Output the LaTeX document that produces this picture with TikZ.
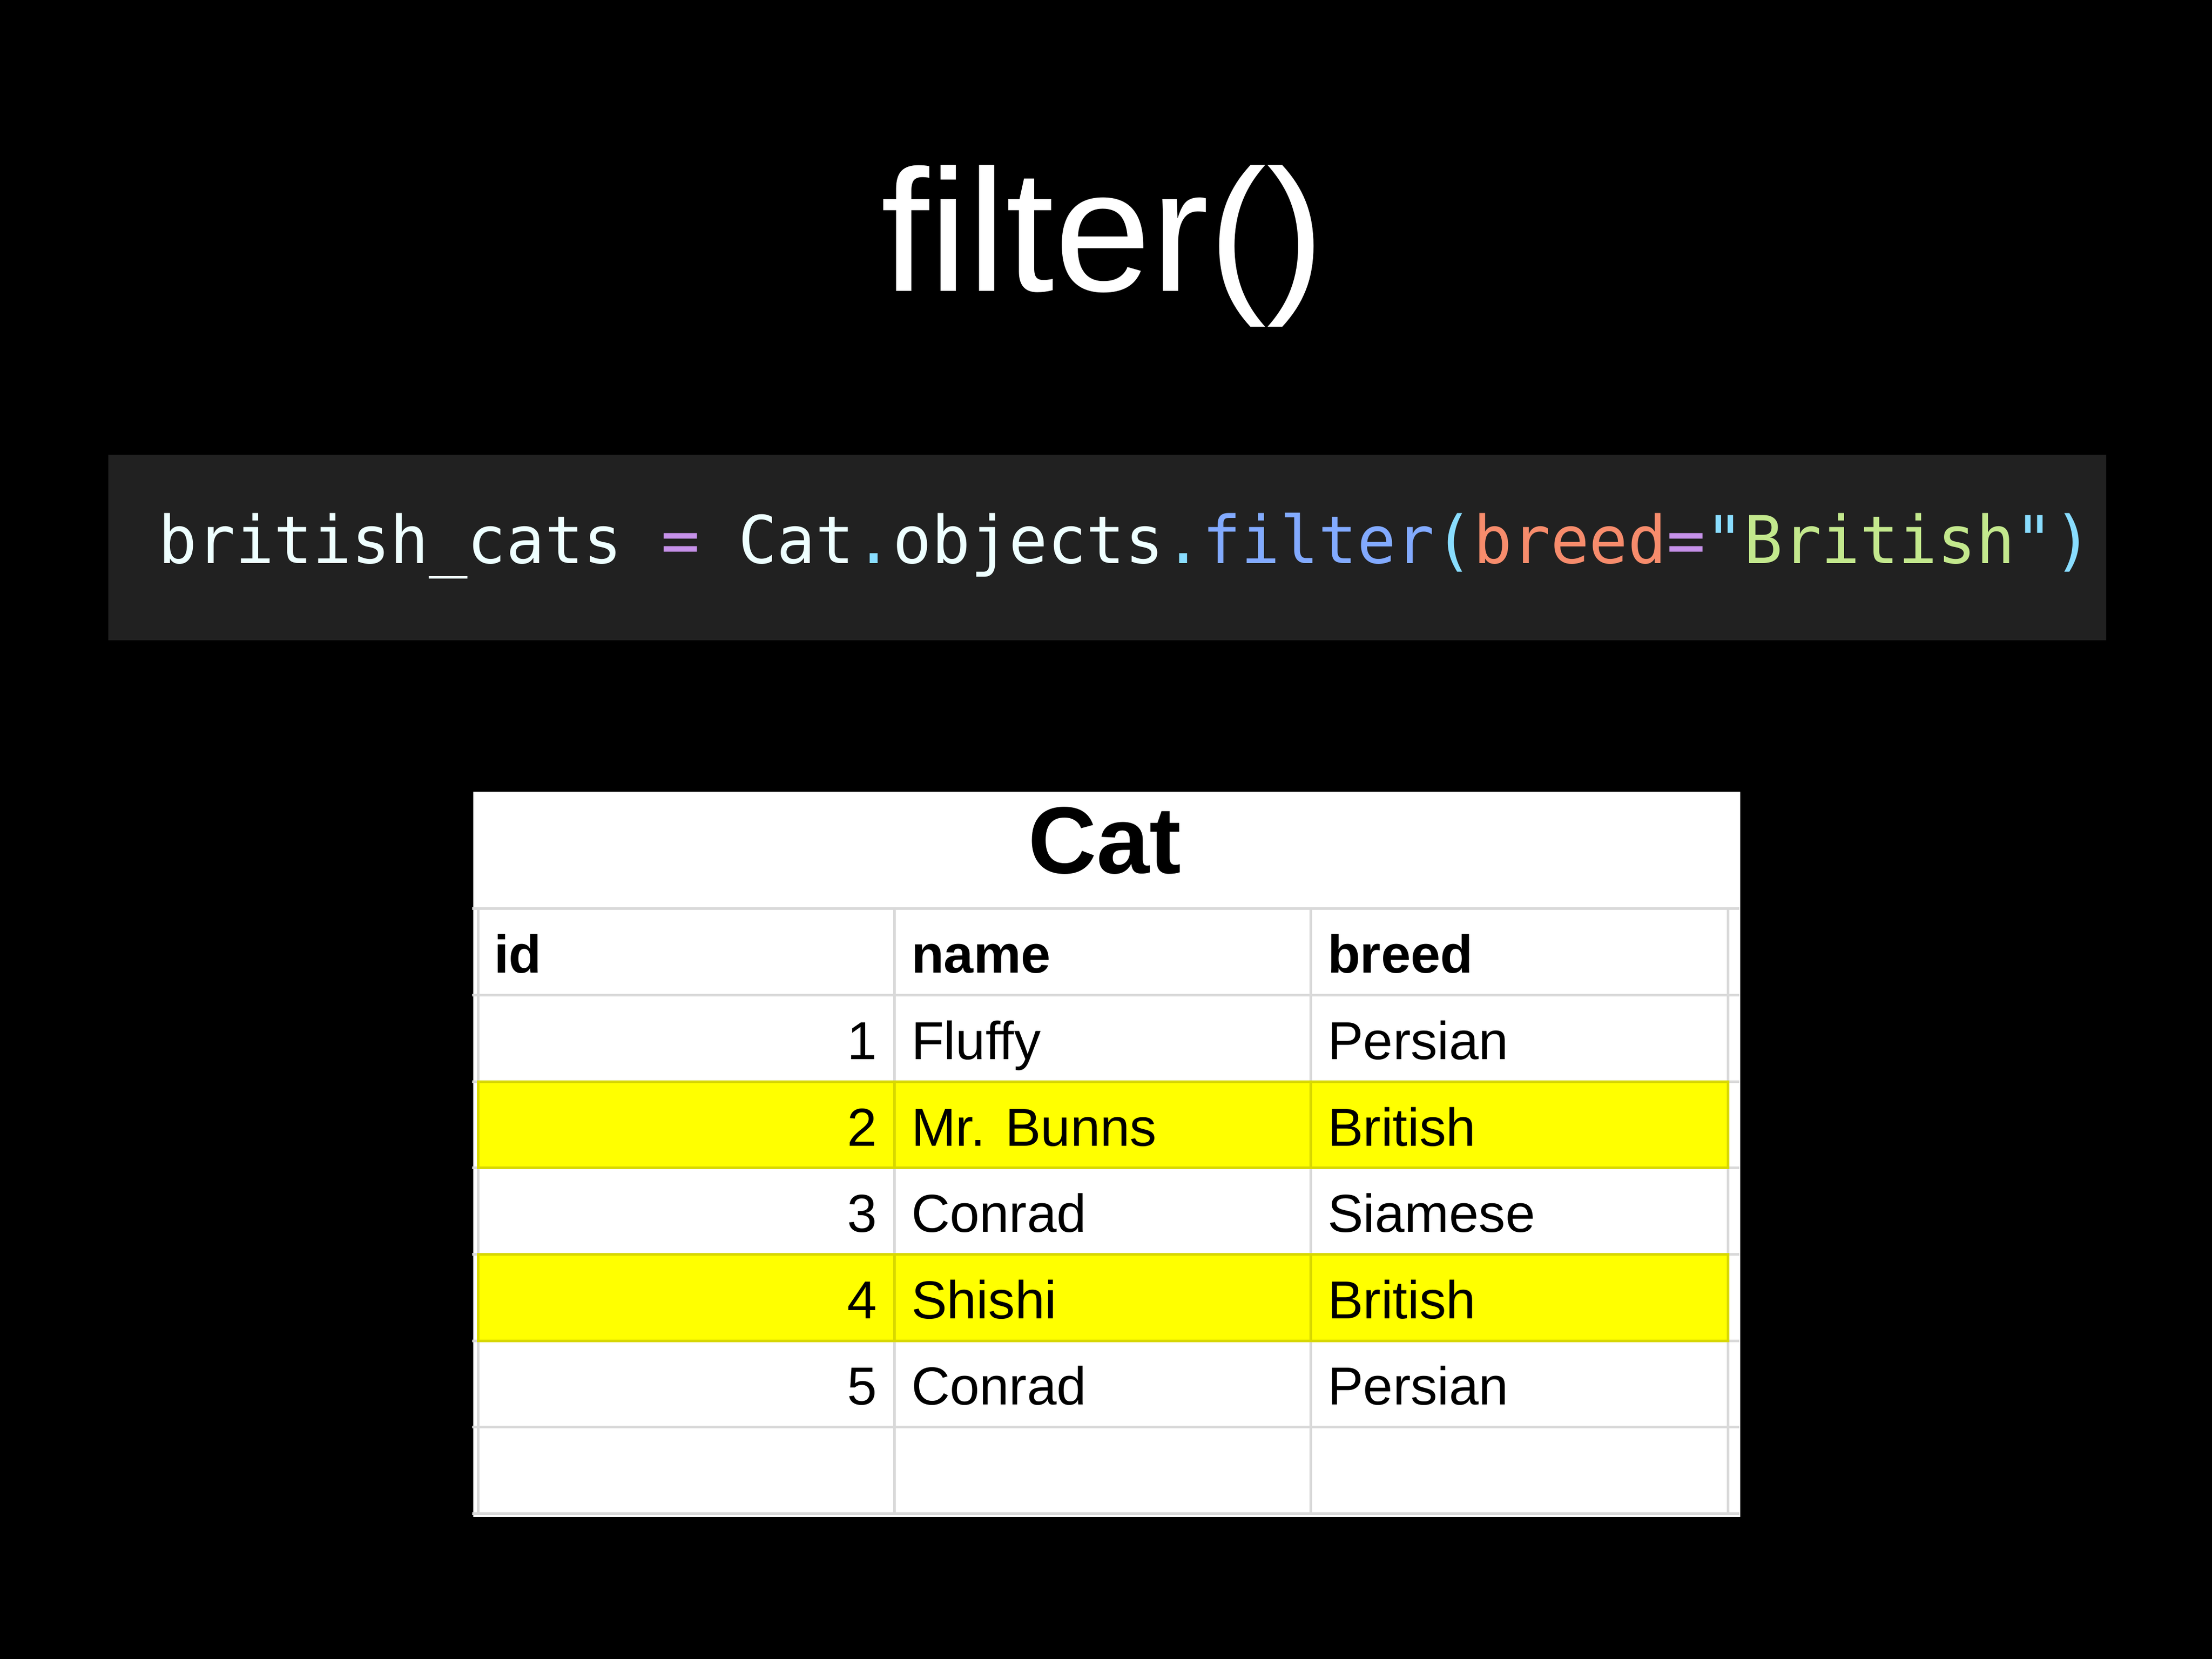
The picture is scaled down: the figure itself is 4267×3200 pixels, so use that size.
\documentclass[tikz,border=0pt]{standalone}
\usepackage{fontspec}
\setmainfont{Liberation Sans}
\setmonofont{DejaVu Sans Mono}
\usepackage{graphicx}
\definecolor{codebg}{HTML}{212121}
\definecolor{codefg}{HTML}{EEFFFF}
\definecolor{cpurple}{HTML}{C792EA}
\definecolor{ccyan}{HTML}{89DDFF}
\definecolor{cblue}{HTML}{82AAFF}
\definecolor{corange}{HTML}{F78C6C}
\definecolor{cgreen}{HTML}{C3E88D}
\definecolor{gridgray}{HTML}{D9D9D9}
\definecolor{hlyellow}{HTML}{FFFF00}
\definecolor{hlborder}{HTML}{D8D800}
\begin{document}
\begin{tikzpicture}[x=0.1pt,y=-0.1pt,
  cell/.style={inner sep=0pt, text=black, font=\fontsize{10.3}{12}\selectfont},
  hdr/.style={inner sep=0pt, text=black, font=\fontsize{10.3}{12}\selectfont\bfseries},
  gridline/.style={draw=gridgray, line width=0.5pt},
  hlline/.style={draw=hlborder, line width=0.5pt},
  hlrow/.style={fill=hlyellow, draw=hlborder, line width=0.5pt}]
% background
\fill[black] (0,0) rectangle (4267,3200);
\useasboundingbox (0,0) rectangle (4267,3200);
% title
\node (title) [anchor=base, inner sep=0pt, text=white, font=\fontsize{33.5}{40}\selectfont] at (2127,562) {filter()};
% code box
\node (codebox) [anchor=north west, fill=codebg, inner sep=0pt, minimum width=385.4pt, minimum height=35.8pt] at (207,875) {};
\node (code) [anchor=base west, inner sep=0pt] at (303,1087) {\ttfamily\fontsize{12.7}{15}\selectfont\scalebox{0.976}[1]{\color{codefg}british\_cats \color{cpurple}= \color{codefg}Cat\color{ccyan}.\color{codefg}objects\color{ccyan}.\color{cblue}filter\color{ccyan}(\color{corange}breed\color{cpurple}=\color{ccyan}"\color{cgreen}British\color{ccyan}")}};
% table box
\node (tablebox) [anchor=north west, fill=white, inner sep=0pt, minimum width=244.4pt, minimum height=139.9pt] at (911,1525) {};
\node (cat) [anchor=base, inner sep=0pt, text=black, font=\fontsize{18.3}{22}\selectfont\bfseries] at (2131,1685) {Cat};
% grid
\foreach \yy in {1753,1920,2086.5,2253,2419.5,2586,2752.5,2919}
  \draw[gridline] (911,\yy) -- (3355,\yy);
\foreach \xx in {922,1725,2528,3333}
  \draw[gridline] (\xx,1753) -- (\xx,2921);
% highlighted rows
\foreach \yt/\yb in {2086.5/2253,2419.5/2586}{
  \draw[hlrow] (922,\yt) rectangle (3333,\yb);
  \foreach \xx in {1725,2528}
    \draw[hlline] (\xx,\yt) -- (\xx,\yb);
}
% header
\node (hid) [hdr, anchor=base west] at (951,1877) {id};
\node (hname) [hdr, anchor=base west] at (1756,1877) {name};
\node (hbreed) [hdr, anchor=base west] at (2559,1877) {breed};
% rows
\foreach \i/\n/\b [count=\k] in {1/Fluffy/Persian,2/Mr. Bunns/British,3/Conrad/Siamese,4/Shishi/British,5/Conrad/Persian}{
  \pgfmathsetmacro{\yb}{1877+166.5*\k}
  \node (id\k) [cell, anchor=base east] at (1694,\yb) {\i};
  \node (name\k) [cell, anchor=base west] at (1756,\yb) {\n};
  \node (breed\k) [cell, anchor=base west] at (2559,\yb) {\b};
}
\end{tikzpicture}
\end{document}
